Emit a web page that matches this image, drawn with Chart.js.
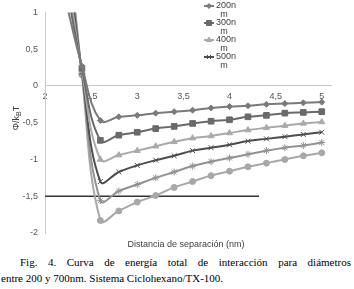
<!DOCTYPE html>
<html lang="es">
<head>
<meta charset="UTF-8" />
<title>Fig. 4 — Energía total de interacción</title>
<script src="https://cdn.jsdelivr.net/npm/chart.js"></script>
<style>
  body { margin: 0; background: #fff; width: 354px; height: 289px; overflow: hidden; }
  #wrap { position: relative; width: 354px; height: 254px; }
  .cap { font-family: "Liberation Serif", "Times New Roman", serif; font-size: 11px; line-height: 16px; color: #000; width: 350px; margin-left: 1px; white-space: nowrap; }
  .cap1 { text-indent: 19px; text-align: justify; text-align-last: justify; white-space: normal; }
</style>
</head>
<body>
<div id="wrap"><canvas id="energia"></canvas></div>
<div class="cap cap1">Fig. 4. Curva de energía total de interacción para diámetros</div>
<div class="cap">entre 200 y 700nm. Sistema Ciclohexano/TX-100.</div>

<script>
  // distancia de separación (nm)
  const dist = [2.2, 2.4, 2.6, 2.8, 3.0, 3.2, 3.4, 3.6, 3.8, 4.0, 4.2, 4.4, 4.6, 4.8, 5.0];

  const names = ["200nm", "300nm", "400nm", "500nm", "600nm", "700nm"];

  // Φ/kBT por diámetro
  const e200 = [1.3, 0.27, -0.47, -0.42, -0.40, -0.37, -0.35, -0.33, -0.30, -0.28, -0.27, -0.25, -0.24, -0.23, -0.22];
  const e300 = [1.6, 0.24, -0.74, -0.67, -0.63, -0.58, -0.55, -0.51, -0.48, -0.46, -0.42, -0.40, -0.37, -0.36, -0.35];
  const e400 = [1.9, 0.21, -1.00, -0.94, -0.88, -0.82, -0.76, -0.71, -0.68, -0.64, -0.60, -0.57, -0.54, -0.51, -0.49];
  const e500 = [2.2, 0.19, -1.30, -1.17, -1.08, -1.01, -0.95, -0.88, -0.84, -0.80, -0.75, -0.72, -0.69, -0.66, -0.63];
  const e600 = [2.5, 0.17, -1.56, -1.43, -1.34, -1.25, -1.17, -1.09, -1.03, -0.98, -0.93, -0.88, -0.84, -0.81, -0.77];
  const e700 = [2.8, 0.15, -1.83, -1.70, -1.58, -1.49, -1.38, -1.30, -1.22, -1.16, -1.10, -1.05, -1.00, -0.95, -0.91];

  // línea de referencia en -1,5
  const refX = [2.0, 4.32];
  const refY = -1.5;

  const series = [e200, e300, e400, e500, e600, e700];
  const colors = ["#7a7a7a", "#6a6a6a", "#aaaaaa", "#4d4d4d", "#929292", "#a8a8a8"];
  const styles = ["rectRot", "rect", "triangle", "crossRot", "star", "circle"];
  const radii = [3, 4, 3.5, 3.5, 3.5, 3];

  const toPts = ys => ys.map((y, i) => ({ x: dist[i], y }));
  const comma = v => String(v).replace(".", ",");
  const FONT = '"Liberation Sans", Arial, sans-serif';

  const datasets = series.map((ys, i) => ({
    label: names[i],
    data: toPts(ys),
    borderColor: colors[i],
    backgroundColor: colors[i],
    borderWidth: 2,
    pointStyle: styles[i],
    pointRadius: radii[i],
    pointBorderWidth: 1,
    tension: 0.4
  }));
  datasets.push({
    label: "ref",
    data: refX.map(x => ({ x, y: refY })),
    borderColor: "#333333",
    borderWidth: 1.5,
    pointRadius: 0,
    tension: 0
  });

  // leyenda (sólo caben 4 entradas, el texto se parte como en el original)
  const leyenda = {
    id: "leyenda",
    afterDraw(chart) {
      const ctx = chart.ctx;
      ctx.save();
      ctx.font = "9px " + FONT;
      ctx.textAlign = "center";
      ctx.textBaseline = "middle";
      for (let i = 0; i < 4; i++) {
        const ds = chart.data.datasets[i];
        const y = 6 + i * 17;
        ctx.strokeStyle = ds.borderColor;
        ctx.fillStyle = ds.borderColor;
        ctx.lineWidth = 2;
        ctx.beginPath(); ctx.moveTo(204, y); ctx.lineTo(214, y); ctx.stroke();
        ctx.lineWidth = 1;
        Chart.helpers.drawPoint(ctx, { pointStyle: ds.pointStyle, radius: ds.pointRadius - 0.5, borderWidth: 1, rotation: 0 }, 209, y);
        ctx.fillStyle = "#404040";
        ctx.fillText(ds.label.slice(0, 4), 226, y);
        ctx.fillText(ds.label.slice(4), 224, y + 9);
      }

      // títulos de ejes
      ctx.fillStyle = "#404040";
      ctx.fillText("Distancia de separación (nm)", 186, 245);

      ctx.translate(17, 118);
      ctx.rotate(-Math.PI / 2);
      ctx.textAlign = "left";
      const big = "9px " + FONT, small = "7px " + FONT;
      ctx.font = big; const w1 = ctx.measureText("Φ/k").width, w3 = ctx.measureText("T").width;
      ctx.font = small; const w2 = ctx.measureText("B").width;
      let x0 = -(w1 + w2 + w3) / 2;
      ctx.font = big; ctx.fillText("Φ/k", x0, 0); x0 += w1;
      ctx.font = small; ctx.fillText("B", x0, 2.5); x0 += w2;
      ctx.font = big; ctx.fillText("T", x0, 0);
      ctx.restore();
    }
  };

  new Chart(document.getElementById("energia"), {
    type: "line",
    data: { datasets },
    plugins: [leyenda],
    options: {
      responsive: true,
      maintainAspectRatio: false,
      animation: false,
      layout: { padding: { left: 0, top: 5, right: 23, bottom: 21 } },
      plugins: { legend: { display: false }, tooltip: { enabled: false } },
      scales: {
        x: {
          type: "linear",
          position: { y: 0 },
          min: 2, max: 5.1,
          grid: { display: false, drawTicks: false },
          border: { display: true, color: "#c8c8c8", width: 1 },
          ticks: { stepSize: 0.5, includeBounds: false, padding: 5, color: "#555", font: { size: 9, family: FONT }, callback: comma }
        },
        y: {
          min: -2, max: 1,
          afterFit: s => { s.width = 45; },
          grid: { display: false, drawTicks: false },
          border: { display: true, color: "#c8c8c8", width: 1 },
          ticks: { stepSize: 0.5, includeBounds: false, padding: 7, color: "#555", font: { size: 9, family: FONT }, callback: comma }
        }
      }
    }
  });
</script>
</body>
</html>
